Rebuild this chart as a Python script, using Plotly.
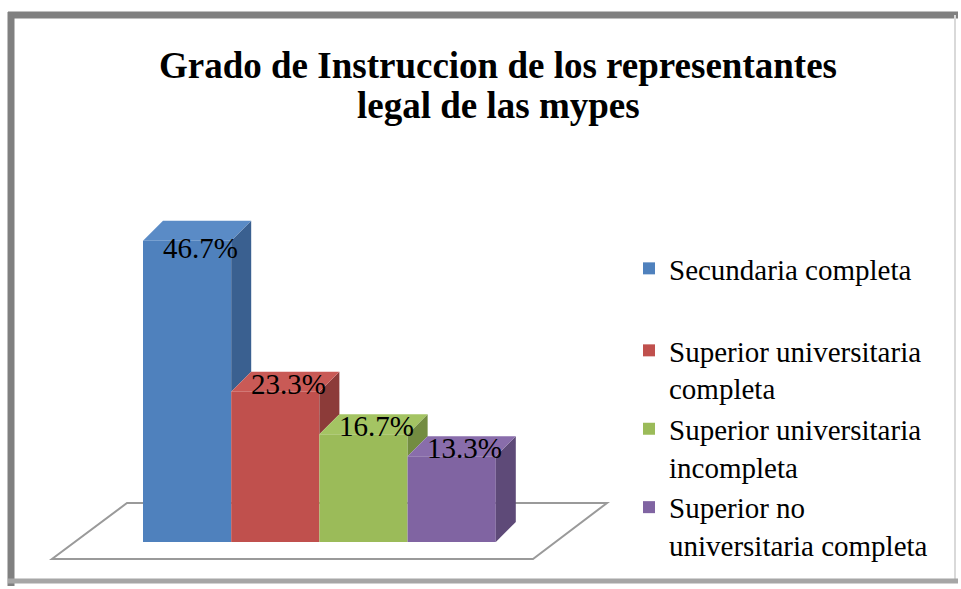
import plotly.graph_objects as go

# ---- data ----
categories = [
    "Secundaria completa",
    "Superior universitaria completa",
    "Superior universitaria incompleta",
    "Superior no universitaria completa",
]
legend_labels = [
    "Secundaria completa",
    "Superior universitaria<br>completa",
    "Superior universitaria<br>incompleta",
    "Superior no<br>universitaria completa",
]
values = [46.7, 23.3, 16.7, 13.3]
value_labels = ["46.7%", "23.3%", "16.7%", "13.3%"]
title_lines = ["Grado de Instruccion de los representantes", "legal de las mypes"]

# ---- styles ----
front_colors = ["#4f81bd", "#c0504d", "#9bbb59", "#8064a2"]
side_colors = ["#3a6090", "#8c3b39", "#738c41", "#5e4a78"]
top_colors = ["#5a8bc6", "#c95a56", "#a4c463", "#896dab"]
legend_ids = ["legend", "legend2", "legend2", "legend2"]

W, H = 961, 589
L, R, T, B = 40, 640, 200, 570        # plot area in page px
X0, UX = 143.0, 88.2                  # px of category 0 left edge, px per category
Y0, UY = 542.0, 6.45                  # px of value 0, px per percent
DX, DY = 20 / UX, 20 / UY             # 3D depth in data units

xr = [(L - X0) / UX, (R - X0) / UX]
yr = [(Y0 - B) / UY, (Y0 - T) / UY]


def ux(px):
    return (px - X0) / UX


def vy(py):
    return (Y0 - py) / UY


def pxp(px):
    return (px - L) / (R - L)


def pyp(py):
    return (B - py) / (B - T)


def cx(px):
    return px / W


def cy(py):
    return 1 - py / H


fig = go.Figure()

n = len(values)
xc = [i + 0.5 for i in range(n)]

# front faces as real bars
for i in range(n):
    fig.add_trace(go.Bar(
        x=[xc[i]], y=[values[i]], width=1, name=legend_labels[i],
        marker=dict(color=front_colors[i], line=dict(width=0)),
        hoverinfo="skip", showlegend=True,
        legend=legend_ids[i],
    ))

# side and top faces (3D effect)
for i in range(n):
    v = values[i]
    x1 = xc[i] + 0.5
    x0 = xc[i] - 0.5
    low = min(values[i + 1], v) if i + 1 < n else 0
    fig.add_trace(go.Scatter(
        x=[x1, x1 + DX, x1 + DX, x1, x1],
        y=[low, low + DY, v + DY, v, low],
        fill="toself", fillcolor=side_colors[i], mode="lines",
        line=dict(width=0), hoverinfo="skip", showlegend=False,
    ))
    fig.add_trace(go.Scatter(
        x=[x0, x1, x1 + DX, x0 + DX, x0],
        y=[v, v, v + DY, v + DY, v],
        fill="toself", fillcolor=top_colors[i], mode="lines",
        line=dict(width=0), hoverinfo="skip", showlegend=False,
    ))

# value labels
label_cap = vy(248)
for i in range(n):
    fig.add_annotation(
        x=xc[i] + 0.15, y=min(values[i] + 1.24, label_cap),
        text=value_labels[i], showarrow=False,
        font=dict(family="Liberation Serif", size=29, color="black"),
        xanchor="center", yanchor="middle",
    )

# title (two lines, tight spacing)
for line, py in zip(title_lines, [66, 106]):
    fig.add_annotation(
        x=pxp(498), y=pyp(py), xref="paper", yref="paper",
        text=f"<b>{line}</b>", showarrow=False,
        font=dict(family="Liberation Serif", size=37, color="black"),
        xanchor="center", yanchor="middle",
    )

# floor (behind bars)
floor_pts = [(127, 503), (607, 503), (533, 559), (52, 559)]
path = "M " + " L ".join(f"{ux(a):.4f},{vy(b):.4f}" for a, b in floor_pts) + " Z"
fig.add_shape(type="path", path=path, xref="x", yref="y", layer="below",
              line=dict(color="#9a9a9a", width=2), fillcolor="white")

# outer frame
frame = [
    ((11, 12), (11, 586), "#808080", 7),
    ((8, 15), (958, 15), "#808080", 7),
    ((955, 15), (955, 580), "#d9d9d9", 2),
    ((8, 581), (958, 581), "#a6a6a6", 5),
]
for (a, b), (c, d), col, w in frame:
    fig.add_shape(type="line", xref="paper", yref="paper",
                  x0=pxp(a), y0=pyp(b), x1=pxp(c), y1=pyp(d),
                  line=dict(color=col, width=w), layer="above")

legend_font = dict(family="Liberation Serif", size=29, color="black")
fig.update_layout(
    width=W, height=H,
    margin=dict(l=L, r=W - R, t=T, b=H - B, autoexpand=False),
    paper_bgcolor="white", plot_bgcolor="white",
    barmode="overlay",
    xaxis=dict(range=xr, visible=False, fixedrange=True),
    yaxis=dict(range=yr, visible=False, fixedrange=True),
    legend=dict(xref="container", yref="container", x=cx(629), y=cy(243),
                xanchor="left", yanchor="top", valign="top",
                font=legend_font, bgcolor="rgba(0,0,0,0)"),
    legend2=dict(xref="container", yref="container", x=cx(629), y=cy(325),
                 xanchor="left", yanchor="top", valign="top",
                 font=legend_font, bgcolor="rgba(0,0,0,0)", tracegroupgap=0),
    showlegend=True,
)

fig.write_html(
    "out.html",
    config={"displayModeBar": False},
    post_script="document.body.style.margin='0';document.body.style.overflow='hidden';",
)
